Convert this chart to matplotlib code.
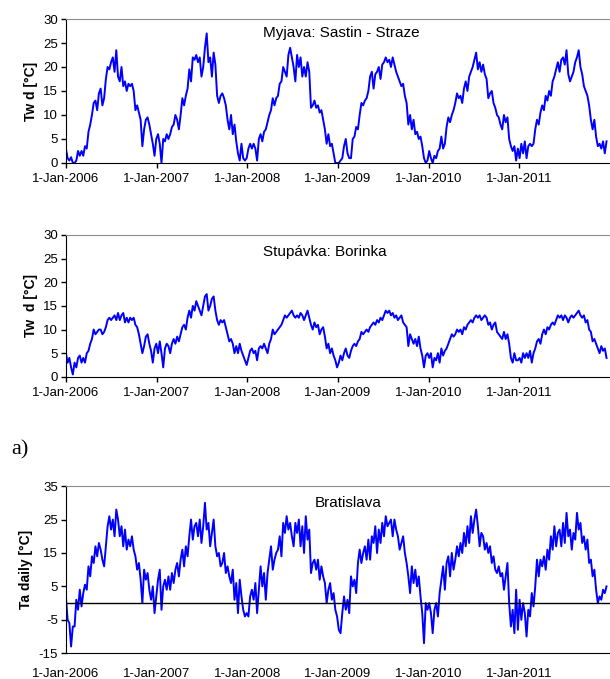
import pandas as pd
import matplotlib
matplotlib.use("Agg")
import matplotlib.pyplot as plt

plt.rcParams['font.family'] = ['Liberation Sans', 'DejaVu Sans']
plt.rcParams['axes.unicode_minus'] = False

# weekly readings, one list per year (52 values), starting 1-Jan-2006
myjava = [
    # 2006
    3, 1, 0.5, 1.2, 0, 0, 0.5, 2.5, 1.5, 2.5, 1.5, 3.5, 3, 6.5, 8, 10, 12.5, 13, 11, 14.5,
    15.5, 12, 13.5, 17.5, 20, 19.5, 21, 22, 19, 23.5, 18, 17, 20, 16, 17, 15, 16.5, 16, 16.5, 15,
    11, 12, 10.5, 9, 3.5, 7, 9, 9.5, 8, 6, 4, 1.5,
    # 2007
    5, 6, 4, 0, 5, 4.5, 6, 5, 6, 7.5, 8, 10, 9, 7, 10, 13.5, 12, 14, 15.5, 19.5,
    17, 22, 21.5, 22.5, 21, 22, 18, 20, 24, 27, 21, 22, 18, 23, 20.5, 14, 12.5, 14, 14.5, 13.5,
    12, 9, 7, 10, 6, 8, 4.5, 2, 0.5, 4, 1, 0.5,
    # 2008
    1, 3, 4, 3, 4, 3, 0.5, 5, 6, 4.5, 6.5, 7, 8.5, 10, 11, 13.5, 12, 13.5, 14, 16.5,
    17, 20, 19, 18, 22.5, 24, 22, 20, 17, 22.5, 20, 22, 18, 20, 18, 21, 19, 11.5, 12, 13,
    11.5, 12, 10.5, 11, 9, 7, 4, 6, 3.5, 4, 2, 0,
    # 2009
    0, 0, 0.5, 1, 3.5, 5, 2, 1, 1, 5, 5.5, 7.5, 7, 10, 12.5, 12, 13, 13.5, 15, 18,
    19, 15.5, 18.5, 19, 20, 17.5, 20.5, 21, 22, 21, 21.5, 20, 22, 20.5, 19, 18, 17, 16, 16.5, 14,
    12.5, 8, 10, 7, 9, 6, 6.5, 5, 5.5, 3.5, 1, 0,
    # 2010
    0.5, 2.5, 1, 0, 1.5, 1, 2.5, 3, 5.5, 3, 4, 7.5, 9.5, 8.5, 10, 11, 12.5, 14.5, 13.5, 14,
    12.5, 15.5, 17, 15, 18, 19, 20, 21.5, 23, 19.5, 21, 19, 20.5, 18.5, 17.5, 13.5, 14.5, 15, 12.5, 11.5,
    10, 9.5, 8, 7, 10, 8.5, 9.5, 5, 3.5, 2.5, 3.5, 0.5,
    # 2011
    3, 1, 4, 2, 4.5, 1, 3.5, 4, 3.5, 4, 7, 9, 8, 10.5, 12, 11, 14, 13, 15, 14,
    17, 18, 19.5, 21, 19, 21.5, 22, 20.5, 23.5, 18.5, 17, 18, 19, 21, 22, 23.5, 20, 18.5, 16, 15,
    14, 12, 9, 7, 9, 5.5, 3.5, 4, 3, 4.5, 2, 4.5,
]

stupavka = [
    # 2006
    5, 3, 4, 2, 0.5, 3, 2, 4, 4.5, 3, 4, 3, 5, 5.5, 7, 8, 10, 9, 9.5, 10,
    10, 9, 9.5, 10.5, 12, 12.5, 12, 12.5, 13, 12, 13.5, 12, 13, 13.5, 11.5, 12.5, 11.5, 12.5, 12, 12.5,
    11, 10.5, 9, 7, 5, 6.5, 8.5, 9, 7, 5.5, 3, 6,
    # 2007
    7, 5, 7.5, 5, 2, 6, 7, 6.5, 5, 7, 8, 7, 8.5, 7.5, 9, 10.5, 11, 10, 12.5, 14,
    12.5, 15, 14, 16, 15, 14, 13, 15, 17, 17.5, 14, 15, 16.5, 17, 14, 12, 11, 12, 11.5, 12,
    10.5, 9, 7.5, 8, 7, 5, 6.5, 5, 7, 5.5, 4.5, 3.5,
    # 2008
    2.5, 4, 5.5, 6, 5, 5.5, 3.5, 6, 6.5, 6, 7, 6, 5, 7, 8, 10, 9, 9.5, 10, 10.5,
    11, 12, 13, 12.5, 13, 13.5, 14, 13, 12.5, 13, 12.5, 13.5, 13, 12, 13, 14, 12.5, 11, 10, 11.5,
    10.5, 11, 9, 10, 10.5, 8.5, 6, 7, 5, 6, 4.5, 3.5,
    # 2009
    2, 3, 4.5, 3.5, 5, 6, 4.5, 4, 5.5, 6.5, 7, 6.5, 7.5, 8, 9.5, 9, 9.5, 10, 9.5, 10.5,
    11, 11.5, 11, 12, 11.5, 12.5, 12, 13, 14, 13.5, 14, 13, 13.5, 12.5, 13, 12, 12.5, 13, 11.5, 11,
    10.5, 6.5, 9, 8, 7, 8, 6.5, 8.5, 6, 4.5, 2, 4.5,
    # 2010
    5, 4, 5, 2, 4, 3.5, 5, 3, 6, 4.5, 5.5, 6, 7, 8, 9, 8.5, 9, 10, 9.5, 10,
    9, 10.5, 10, 11, 11.5, 12, 11.5, 12.5, 13, 12.5, 13, 12, 12.5, 13, 12.5, 11, 11.5, 10, 11, 11.5,
    9.5, 9, 8.5, 8, 9.5, 8, 9, 7, 4, 3, 5, 3.5,
    # 2011
    3.5, 4, 3, 5, 4, 5, 4, 5.5, 3, 5, 6, 7.5, 8, 7, 9, 10, 9, 10.5, 10, 11,
    11.5, 11, 12, 13, 12.5, 13, 12, 13, 12.5, 11.5, 12.5, 13, 12.5, 13, 13.5, 14, 13, 12.5, 13, 11.5,
    12, 10, 9.5, 7.5, 8, 7, 6, 5, 6.5, 5.5, 6, 4,
]

bratislava = [
    # 2006
    2, -5, -6, -13, -7, -7, 1, -2, 4, -1, 3, 5.5, 4, 11, 8, 14, 12, 17, 14, 18,
    16, 13, 11, 17, 23, 26, 22, 25, 20, 28, 25, 20, 23, 17, 22, 16, 19, 17, 20, 16,
    14, 10, 12, 7, 0, 10, 7, 9, 4, 1, 5, -3,
    # 2007
    2, 7, 10, -2, 5, 7, 4, 8, 4, 9, 6, 10, 12, 8, 13, 16, 11, 17, 14, 20,
    25, 19, 23, 24, 20, 25, 18, 23, 30, 22, 24, 17, 21, 25, 17, 14, 15, 11, 12, 15,
    9, 11, 8, 6, 10, 1, 6, -3, 7, 2, -2, -4,
    # 2008
    -3, -4, 2, 4, 1, 6, -3, 4, 11, 5, 9, 1, 9, 13, 17, 10, 13, 15, 16, 20,
    14, 24, 21, 26, 22, 24, 20, 17, 24, 21, 25, 17, 23, 15, 26, 19, 22, 9, 12, 13,
    10, 13, 7, 11, 8, 6, 0, 4, 6, 1, 3, -2,
    # 2009
    -4, -8, -9, -3, 2, -2, 1, -3, 8, 5, 7, 3, 12, 16, 12, 15, 17, 13, 19, 13,
    20, 18, 23, 15, 22, 18, 24, 20, 26, 23, 24, 25, 20, 25, 22, 20, 16, 18, 20, 15,
    12, 8, 3, 11, 6, 10, 5, 8, 2, -3, -12, 0,
    # 2010
    -2, 0, -3, -9, -2, 0, -4, 3, 7, 11, 4, 12, 14, 8, 15, 10, 13, 17, 14, 18,
    15, 21, 17, 23, 18, 26, 21, 25, 28, 23, 17, 21, 20, 16, 18, 15, 17, 12, 14, 10,
    9, 11, 8, 9, 4, 8, 12, 0, -7, -2, -9, 4,
    # 2011
    -8, 1, -5, 0, -3, -10, -2, -4, 3, -1, 5, 13, 8, 13, 11, 14, 10, 16, 13, 20,
    16, 23, 17, 21, 22, 17, 24, 18, 27, 20, 22, 16, 21, 19, 27, 22, 24, 18, 20, 16,
    19, 12, 13, 8, 10, 4, 0, 2, 1, 4, 3, 5,
]

dates = pd.date_range('2006-01-01', periods=len(myjava), freq='7D')
year_ticks = pd.to_datetime(['2006-01-01', '2007-01-01', '2008-01-01',
                             '2009-01-01', '2010-01-01', '2011-01-01'])
tick_labels = ['1-Jan-%d' % d.year for d in year_ticks]

fig = plt.figure(figsize=(6.10, 6.79), dpi=100)

ax1 = fig.add_axes([0.108, 0.760, 0.892, 0.212])
ax2 = fig.add_axes([0.108, 0.445, 0.892, 0.209])
ax3 = fig.add_axes([0.108, 0.038, 0.892, 0.246])


def style(ax, ylim, yticks, ylabel, show_xticks=True):
    ax.set_xlim(pd.Timestamp('2006-01-01'), pd.Timestamp('2012-01-01'))
    ax.set_ylim(*ylim)
    ax.set_yticks(yticks)
    ax.set_xticks(year_ticks)
    ax.set_xticklabels(tick_labels)
    ax.tick_params(axis='both', labelsize=9.5, length=3.5, width=1, color='black', pad=2)
    ax.tick_params(axis='x', pad=3.5)
    if not show_xticks:
        ax.tick_params(axis='x', length=0, pad=11)
    ax.spines['top'].set_color('#8c8c8c')
    ax.spines['right'].set_visible(False)
    ax.spines['left'].set_color('black')
    ax.spines['bottom'].set_color('black')
    ax.set_ylabel(ylabel, fontsize=10, fontweight='bold', labelpad=4)


ax1.plot(dates, myjava, color='#0000ff', lw=1.4)
style(ax1, (0, 30), range(0, 31, 5), 'Tw d [°C]')
fig.text(0.431, 0.951, 'Myjava: Sastin - Straze', fontsize=11, ha='left', va='center')

ax2.plot(dates, stupavka, color='#0000ff', lw=1.4)
style(ax2, (0, 30), range(0, 31, 5), 'Tw  d [°C]')
fig.text(0.431, 0.629, 'Stupávka: Borinka', fontsize=11, ha='left', va='center')

ax3.plot(dates, bratislava, color='#0000ff', lw=1.4)
ax3.axhline(0, color='black', lw=1)
style(ax3, (-15, 35), range(-15, 36, 10), 'Ta daily [°C]', show_xticks=False)
fig.text(0.516, 0.259, 'Bratislava', fontsize=11, ha='left', va='center')

fig.text(0.018, 0.337, 'a)', fontsize=16, family=['Liberation Serif', 'DejaVu Serif'],
         ha='left', va='center')

fig.savefig('out.png', dpi=100)
